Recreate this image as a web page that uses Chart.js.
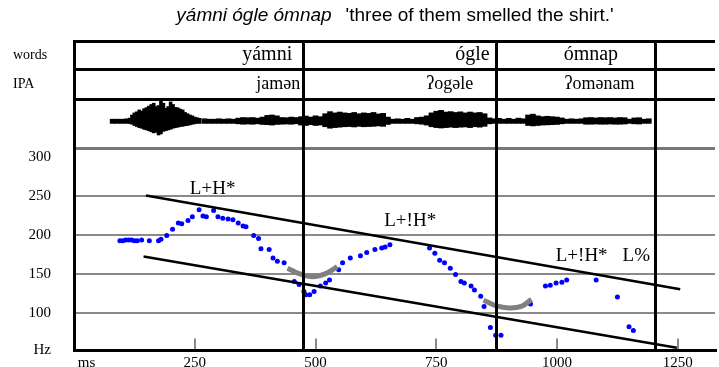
<!DOCTYPE html>
<html>
<head>
<meta charset="utf-8">
<script src="https://cdn.jsdelivr.net/npm/chart.js@4.4.0/dist/chart.umd.min.js"></script>
<style>
  html, body { margin: 0; padding: 0; background: #fff; overflow: hidden; }
</style>
</head>
<body>
<canvas id="canvas" width="719" height="367"></canvas>
<script>
var titleWords = 'yámni ógle ómnap'
var titleGloss = "'three of them smelled the shirt.'"

// word tier and IPA tier, anchored at times in ms
var words = ['yámni', 'ógle', 'ómnap']
var wordAt = [400, 825, 1070]
var ipa = ['jamən', 'ʔogəle', 'ʔomənam']
var ipaAt = [423, 778, 1088]
var boundaries = [476, 875, 1204]

// x axis ticks (ms)
var msTicks = [250, 500, 750, 1000, 1250]
var msLabelAt = 26

// pitch axis (Hz)
var hzTicks = [100, 150, 200, 250, 300]
var hzGrid = [100, 150, 200, 250]
var hzMin = 51.5
var hzMax = 311

// F0 track: time (ms), frequency (Hz)
var f0T = [95, 101, 107, 113, 119, 125, 131, 140, 156, 175, 180, 192, 204, 216, 223, 236, 245, 259, 267, 274,
  289, 298, 308, 319, 329, 340, 350, 356, 372, 382, 387, 404, 412, 421, 435, 456, 466, 476, 480, 488,
  497, 510, 521, 529, 548, 556, 572, 593, 606, 623, 637, 644, 654, 736, 747, 757, 767, 779, 790, 801,
  808, 822, 829, 842, 849, 862, 873, 884, 945, 976, 986, 998, 1010, 1020, 1081, 1125, 1149, 1158]
var f0Hz = [192, 192, 193, 193, 193, 192, 192, 193, 192, 192, 194, 199, 207, 215, 214, 218, 223, 232, 224, 223,
  231, 223, 221, 220, 219, 215, 211, 210, 199, 195, 182, 181, 170, 166, 164, 140, 136, 127, 123, 123,
  127, 134, 138, 142, 155, 164, 170, 173, 177, 181, 183, 184, 187, 183, 176, 167, 164, 157, 149, 140,
  138, 134, 129, 121, 108, 81, 71, 71, 111, 134, 135, 138, 139, 142, 142, 120, 82, 77]

// stylised topline and baseline
var toplineT = [149, 1255]
var toplineHz = [250, 130]
var baselineT = [144, 1248]
var baselineHz = [172, 55]

// valley arcs
var arc1T = [442, 466, 493, 521, 545]
var arc1Hz = [157, 150, 146, 150, 159]
var arc2T = [848, 873, 901, 926, 947]
var arc2Hz = [116, 109, 106, 108, 117]

// tone labels
var tones = ['L+H*', 'L+!H*', 'L+!H*', 'L%']
var toneT = [287, 696, 1051, 1164]
var toneHz = [258, 218, 173, 173]

// waveform envelope, burst part (5 ms steps)
var burstT = [115, 120, 125, 130, 135, 140, 145, 150, 155, 160, 165, 170, 175, 180, 185, 190, 195, 200,
  205, 210, 215, 220, 225, 230, 235, 240, 245, 250, 255, 260]
var burstHi = [0.15, 0.30, 0.40, 0.45, 0.54, 0.48, 0.60, 0.65, 0.72, 0.80, 0.86, 0.70, 0.75, 1.00, 0.86, 0.62, 0.70, 0.92,
  0.80, 0.66, 0.64, 0.58, 0.54, 0.42, 0.36, 0.30, 0.26, 0.20, 0.17, 0.14]
var burstLo = [-0.10, -0.14, -0.20, -0.25, -0.30, -0.33, -0.38, -0.41, -0.45, -0.50, -0.55, -0.52, -0.65, -0.60, -0.48, -0.45, -0.41, -0.38,
  -0.33, -0.30, -0.28, -0.25, -0.24, -0.21, -0.20, -0.17, -0.14, -0.12, -0.10, -0.10]

// waveform envelope, rest (10 ms steps)
var waveT = [80, 90, 100, 110, 270, 280, 290, 300, 310, 320, 330, 340, 350, 360, 370, 380, 390, 400, 410, 420,
  430, 440, 450, 460, 470, 480, 490, 500, 510, 520, 530, 540, 550, 560, 570, 580, 590, 600, 610, 620,
  630, 640, 650, 660, 670, 680, 690, 700, 710, 720, 730, 740, 750, 760, 770, 780, 790, 800, 810, 820,
  830, 840, 850, 860, 870, 880, 890, 900, 910, 920, 930, 940, 950, 960, 970, 980, 990, 1000, 1010, 1020,
  1030, 1040, 1050, 1060, 1070, 1080, 1090, 1100, 1110, 1120, 1130, 1140, 1150, 1160, 1170, 1180, 1190]
var waveHi = [0.10, 0.10, 0.10, 0.12, 0.12, 0.10, 0.10, 0.12, 0.10, 0.12, 0.10, 0.15, 0.18, 0.17, 0.18, 0.15, 0.20, 0.28, 0.30, 0.26,
  0.18, 0.17, 0.20, 0.18, 0.22, 0.25, 0.20, 0.26, 0.22, 0.36, 0.46, 0.40, 0.44, 0.40, 0.38, 0.42, 0.36, 0.40, 0.38, 0.42,
  0.35, 0.38, 0.20, 0.10, 0.12, 0.10, 0.14, 0.10, 0.18, 0.20, 0.26, 0.40, 0.48, 0.52, 0.44, 0.46, 0.42, 0.45, 0.40, 0.44,
  0.40, 0.42, 0.36, 0.16, 0.12, 0.14, 0.10, 0.14, 0.10, 0.15, 0.12, 0.30, 0.34, 0.26, 0.22, 0.24, 0.22, 0.20, 0.16, 0.10,
  0.12, 0.10, 0.12, 0.17, 0.18, 0.16, 0.18, 0.17, 0.18, 0.16, 0.18, 0.17, 0.10, 0.16, 0.17, 0.10, 0.12]
var waveLo = [-0.10, -0.10, -0.10, -0.10, -0.10, -0.10, -0.10, -0.10, -0.10, -0.10, -0.10, -0.12, -0.14, -0.13, -0.14, -0.12, -0.15, -0.16, -0.18, -0.15,
  -0.14, -0.13, -0.14, -0.12, -0.18, -0.20, -0.16, -0.20, -0.18, -0.26, -0.33, -0.30, -0.28, -0.26, -0.25, -0.27, -0.24, -0.26, -0.25, -0.24,
  -0.22, -0.24, -0.15, -0.10, -0.10, -0.10, -0.10, -0.10, -0.12, -0.14, -0.18, -0.26, -0.30, -0.32, -0.30, -0.28, -0.30, -0.28, -0.27, -0.30,
  -0.26, -0.28, -0.24, -0.12, -0.10, -0.10, -0.10, -0.10, -0.10, -0.10, -0.10, -0.20, -0.22, -0.20, -0.18, -0.17, -0.16, -0.15, -0.12, -0.10,
  -0.10, -0.10, -0.10, -0.14, -0.14, -0.13, -0.14, -0.14, -0.13, -0.14, -0.14, -0.13, -0.10, -0.12, -0.13, -0.10, -0.10]

function pts(xs, ys) {
  return xs.map(function (x, i) { return { x: x, y: ys[i] } })
}
function env(xs, lo, hi) {
  return xs.map(function (x, i) { return { x: x, y: [lo[i], hi[i]] } })
}
function fixedWidth(s) { s.width = 61 }

var serif = 'Liberation Serif, Times New Roman, serif'
var sans = 'Liberation Sans, Arial, Helvetica, sans-serif'
var tickFont = { family: serif, size: 14 }
var clear = 'rgba(0,0,0,0)'

// row axis with one centred label and black lines at its edges
function rowAxis(label, weight) {
  return {
    type: 'linear', position: 'left', stack: 'tier', stackWeight: weight,
    min: 0, max: 1,
    afterFit: fixedWidth,
    afterBuildTicks: function (s) { s.ticks = [{ value: 0 }, { value: 0.5 }, { value: 1 }] },
    ticks: {
      autoSkip: false, crossAlign: 'far', padding: 0, color: '#000', font: tickFont,
      callback: function (v) { return v === 0.5 ? label : '' }
    },
    grid: {
      drawTicks: false, lineWidth: 3,
      color: function (c) { return c.tick && c.tick.value !== 0.5 ? '#000' : clear }
    },
    border: { color: '#000', width: 3 }
  }
}

var textPlugin = {
  id: 'tierText',
  afterDatasetsDraw: function (chart) {
    var c = chart.ctx
    var sx = chart.scales.x
    var sy = chart.scales.y
    var area = chart.chartArea
    c.save()
    c.fillStyle = '#000'

    // title
    c.textBaseline = 'alphabetic'
    c.font = 'italic 19px ' + sans
    var w1 = c.measureText(titleWords).width
    c.font = '19px ' + sans
    var w2 = c.measureText(titleGloss).width
    var gap = 14
    var x0 = 395 - (w1 + gap + w2) / 2
    c.textAlign = 'left'
    c.font = 'italic 19px ' + sans
    c.fillText(titleWords, x0, 21)
    c.font = '19px ' + sans
    c.fillText(titleGloss, x0 + w1 + gap, 21)

    // words and IPA rows
    c.textAlign = 'center'
    c.textBaseline = 'middle'
    c.font = '20px ' + serif
    var yw = chart.scales.yWords.getPixelForValue(0.5)
    words.forEach(function (w, i) { c.fillText(w, sx.getPixelForValue(wordAt[i]), yw) })
    c.font = '18px ' + serif
    var yi = chart.scales.yIpa.getPixelForValue(0.5)
    ipa.forEach(function (w, i) { c.fillText(w, sx.getPixelForValue(ipaAt[i]), yi) })

    // tone labels
    c.font = '19px ' + serif
    tones.forEach(function (t, i) {
      c.fillText(t, sx.getPixelForValue(toneT[i]), sy.getPixelForValue(toneHz[i]))
    })

    // small tick marks above the time axis
    c.strokeStyle = '#888'
    c.lineWidth = 2
    msTicks.forEach(function (v) {
      var px = Math.round(sx.getPixelForValue(v))
      c.beginPath()
      c.moveTo(px, area.bottom - 12)
      c.lineTo(px, area.bottom)
      c.stroke()
    })
    c.restore()
  }
}

var ctx = document.getElementById('canvas').getContext('2d')
var chart = new Chart(ctx, {
  type: 'scatter',
  data: {
    datasets: [
      {
        type: 'bar', xAxisID: 'x', yAxisID: 'yWave', grouped: false,
        data: env(burstT, burstLo, burstHi),
        backgroundColor: '#000', borderWidth: 0, barThickness: 3
      },
      {
        type: 'bar', xAxisID: 'x', yAxisID: 'yWave', grouped: false,
        data: env(waveT, waveLo, waveHi),
        backgroundColor: '#000', borderWidth: 0, barThickness: 5
      },
      {
        type: 'line', xAxisID: 'x', yAxisID: 'y', data: pts(toplineT, toplineHz),
        borderColor: '#000', borderWidth: 2.5, pointRadius: 0
      },
      {
        type: 'line', xAxisID: 'x', yAxisID: 'y', data: pts(baselineT, baselineHz),
        borderColor: '#000', borderWidth: 2.5, pointRadius: 0
      },
      {
        type: 'line', xAxisID: 'x', yAxisID: 'y', data: pts(arc1T, arc1Hz),
        borderColor: '#808080', borderWidth: 5, pointRadius: 0, tension: 0.4
      },
      {
        type: 'line', xAxisID: 'x', yAxisID: 'y', data: pts(arc2T, arc2Hz),
        borderColor: '#808080', borderWidth: 5, pointRadius: 0, tension: 0.4
      },
      {
        type: 'scatter', xAxisID: 'x', yAxisID: 'y', data: pts(f0T, f0Hz),
        pointStyle: 'circle', pointRadius: 2.5, backgroundColor: '#0000ff', borderWidth: 0
      }
    ]
  },
  options: {
    responsive: false,
    animation: false,
    devicePixelRatio: 1,
    layout: { padding: { top: 41, left: 13, right: 0, bottom: 0 } },
    plugins: { legend: { display: false }, tooltip: { enabled: false } },
    scales: {
      y: {
        type: 'linear', position: 'left', stack: 'tier', stackWeight: 202.5,
        min: hzMin, max: hzMax,
        afterFit: fixedWidth,
        afterBuildTicks: function (s) {
          s.ticks = [{ value: hzMin }].concat(hzTicks.map(function (v) { return { value: v } }), [{ value: hzMax }])
        },
        ticks: {
          autoSkip: false, padding: 0, color: '#000', font: { family: serif, size: 15 },
          callback: function (v) { return v === hzMin ? 'Hz' : (v === hzMax ? '' : String(v)) }
        },
        grid: {
          drawTicks: true, tickLength: 23, tickColor: clear,
          lineWidth: function (c) { return c.tick && c.tick.value === hzMax ? 3 : 2 },
          color: function (c) {
            if (!c.tick) return clear
            if (c.tick.value === hzMax) return '#777'
            return hzGrid.indexOf(c.tick.value) >= 0 ? '#8a8a8a' : clear
          }
        },
        border: { color: '#000', width: 3 }
      },
      yWave: {
        type: 'linear', position: 'left', stack: 'tier', stackWeight: 49,
        min: -1.27, max: 1.06,
        afterFit: fixedWidth,
        afterBuildTicks: function (s) { s.ticks = [{ value: 1.06 }] },
        ticks: { display: false },
        grid: { drawTicks: false, color: '#000', lineWidth: 3 },
        border: { color: '#000', width: 3 }
      },
      yIpa: rowAxis('IPA', 30),
      yWords: rowAxis('words', 28),
      x: {
        type: 'linear', position: 'bottom', min: 0, max: 1327, offset: false,
        afterFit: function (s) { s.height = 16.5 },
        afterBuildTicks: function (s) {
          s.ticks = [msLabelAt].concat(msTicks, boundaries).sort(function (a, b) { return a - b })
            .map(function (v) { return { value: v } })
        },
        ticks: {
          autoSkip: false, maxRotation: 0, padding: 4, color: '#000', font: { family: serif, size: 15 },
          callback: function (v) {
            if (v === msLabelAt) return 'ms'
            return msTicks.indexOf(v) >= 0 ? String(v) : ''
          }
        },
        // word boundaries drawn above the data; border on the same layer so it is placed after the grid
        grid: {
          z: 1, offset: false, drawTicks: false, lineWidth: 3,
          color: function (c) { return c.tick && boundaries.indexOf(c.tick.value) >= 0 ? '#000' : clear }
        },
        border: { color: '#000', width: 3, z: 1 }
      }
    }
  },
  plugins: [textPlugin]
})
</script>
</body>
</html>
